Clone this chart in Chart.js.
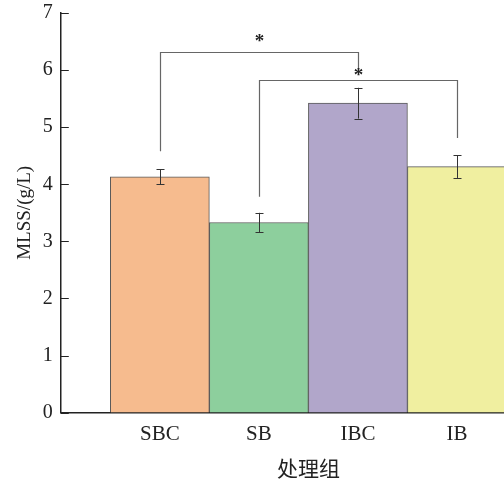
<!DOCTYPE html>
<html>
<head>
<meta charset="utf-8">
<script src="https://cdn.jsdelivr.net/npm/chart.js@4"></script>
<style>
  html, body { margin: 0; padding: 0; background: #fff; overflow: hidden; }
  #wrap { width: 504px; height: 484px; overflow: hidden; position: relative; }
  #box { width: 565px; height: 494px; margin-top: -7px; }
</style>
</head>
<body>
<div id="wrap"><div id="box"><canvas id="chart"></canvas></div></div>
<script>
// blank slots at both ends so the bars sit where the original plot put them
const groups = ['', 'SBC', 'SB', 'IBC', 'IB', ''];
const mlss = [null, 4.13, 3.33, 5.42, 4.31, null];
const mlssErr = [0, 0.13, 0.17, 0.27, 0.20, 0];
const barColors = ['#fff', '#F6BB8E', '#8DCF9D', '#B1A6CA', '#F0EFA0', '#fff'];
const yTicks = [0, 1, 2, 3, 4, 5, 6, 7];

// significance brackets: from / to category index, leg bottoms, top, star level
const sigFrom = [1, 2];
const sigTo = [3, 4];
const sigLegFrom = [4.58, 3.78];
const sigLegTo = [5.94, 4.81];
const sigTop = [6.31, 5.82];
const sigStar = [6.58, 5.98];

const serif = '"Liberation Serif", "Times New Roman", serif';

const extras = {
  id: 'extras',
  afterDatasetsDraw(chart) {
    const { ctx, scales: { x, y }, chartArea } = chart;
    ctx.save();
    // error bars
    ctx.strokeStyle = '#333';
    ctx.lineWidth = 1;
    mlss.forEach((v, i) => {
      if (v == null) return;
      const px = Math.round(x.getPixelForValue(i)) + 0.5;
      const top = y.getPixelForValue(v + mlssErr[i]);
      const bot = y.getPixelForValue(v - mlssErr[i]);
      ctx.beginPath();
      ctx.moveTo(px, top); ctx.lineTo(px, bot);
      ctx.moveTo(px - 4, Math.round(top) + 0.5); ctx.lineTo(px + 4, Math.round(top) + 0.5);
      ctx.moveTo(px - 4, Math.round(bot) + 0.5); ctx.lineTo(px + 4, Math.round(bot) + 0.5);
      ctx.stroke();
    });
    // brackets
    ctx.strokeStyle = '#666';
    ctx.lineWidth = 1.2;
    sigFrom.forEach((a, k) => {
      const xa = Math.round(x.getPixelForValue(a)) + 0.5;
      const xb = Math.round(x.getPixelForValue(sigTo[k])) + 0.5;
      const yt = Math.round(y.getPixelForValue(sigTop[k])) + 0.5;
      ctx.beginPath();
      ctx.moveTo(xa, y.getPixelForValue(sigLegFrom[k]));
      ctx.lineTo(xa, yt);
      ctx.lineTo(xb, yt);
      ctx.lineTo(xb, y.getPixelForValue(sigLegTo[k]));
      ctx.stroke();
      ctx.fillStyle = '#222';
      ctx.font = 'bold 19px ' + serif;
      ctx.textAlign = 'center';
      ctx.textBaseline = 'middle';
      ctx.fillText('*', (xa + xb) / 2, y.getPixelForValue(sigStar[k]) + 5);
    });
    // inward y ticks
    ctx.strokeStyle = '#222';
    ctx.lineWidth = 1;
    yTicks.forEach(t => {
      const py = Math.round(y.getPixelForValue(t)) + 0.5;
      ctx.beginPath();
      ctx.moveTo(chartArea.left, py);
      ctx.lineTo(chartArea.left + 8, py);
      ctx.stroke();
    });
    ctx.restore();
  }
};

new Chart(document.getElementById('chart'), {
  type: 'bar',
  data: {
    labels: groups,
    datasets: [{
      data: mlss,
      backgroundColor: barColors,
      borderColor: '#5a5a5a',
      borderWidth: 1,
      barPercentage: 1,
      categoryPercentage: 1
    }]
  },
  options: {
    responsive: true,
    maintainAspectRatio: false,
    animation: false,
    layout: { padding: { top: 0, right: 6, left: 10, bottom: 6 } },
    plugins: { legend: { display: false }, tooltip: { enabled: false } },
    scales: {
      x: {
        offset: false,
        grid: { display: false, drawTicks: false },
        border: { display: true, color: '#222', width: 1.5 },
        ticks: { color: '#222', font: { family: serif, size: 21 }, padding: 9, maxRotation: 0, autoSkip: false },
        title: { display: true, text: '处理组', color: '#222', font: { family: '"Noto Sans CJK SC", serif', size: 21 }, padding: { top: 0, bottom: 0 } }
      },
      y: {
        min: 0, max: 7,
        grid: { display: false, drawTicks: false },
        border: { display: true, color: '#222', width: 1.5 },
        ticks: { stepSize: 1, color: '#222', font: { family: serif, size: 20 }, padding: 8 },
        title: { display: true, text: 'MLSS/(g/L)', color: '#222', font: { family: serif, size: 19 }, padding: { top: 4, bottom: -2 } }
      }
    }
  },
  plugins: [extras]
});
</script>
</body>
</html>
